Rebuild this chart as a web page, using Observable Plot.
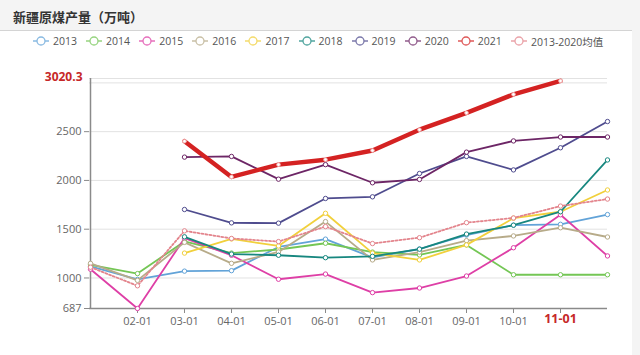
<!DOCTYPE html>
<html>
<head>
<meta charset="utf-8">
<script src="https://cdn.jsdelivr.net/npm/d3@7"></script>
<script src="https://cdn.jsdelivr.net/npm/@observablehq/plot@0.6"></script>
<style>
  body { margin: 0; background: #fff; }
  #wrap { position: relative; width: 640px; height: 355px; overflow: hidden; background: #fff;
          font-family: "Open Sans", "Noto Sans CJK SC", sans-serif; }
  #titlebar { height: 30px; background: #f4f4f4; border-bottom: 1px solid #d4d4d4; position: relative; }
  #title { position: absolute; left: 13px; top: 7px; font-size: 13px; font-weight: bold; color: #333;
           font-family: "Noto Sans CJK SC", sans-serif; }
  #legend { position: relative; height: 20px; }
  .item { position: absolute; top: 3px; height: 14px; display: flex; align-items: center; }
  .item span { font-size: 10.5px; color: #555; margin-left: 4px; white-space: nowrap; }
  #strip { position: absolute; right: 0; top: 0; width: 8px; height: 355px; background: #f4f4f4; }
</style>
</head>
<body>
<div id="wrap">
  <div id="titlebar"><div id="title">新疆原煤产量（万吨）</div></div>
  <div id="legend"></div>
  <div id="chart"></div>
  <div id="strip"></div>
</div>
<script>
const months = ["01-01","02-01","03-01","04-01","05-01","06-01","07-01","08-01","09-01","10-01","11-01","12-01"];
const xTickLabels = ["02-01","03-01","04-01","05-01","06-01","07-01","08-01","09-01","10-01","11-01"];
const yTickValues = [687, 1000, 1500, 2000, 2500];
const gridValues = [1000, 1500, 2000, 2500, 3000, 3045];
const yDomain = [687, 3045];
const peakMonth = "11-01";
const peakValue = 3020.3;

const seriesNames = ["2013","2014","2015","2016","2017","2018","2019","2020","2021","2013-2020均值"];
const seriesColors = ["#62a3d8","#74c655","#de3fa6","#b7ab89","#f1d03c","#17877f","#4f4c8e","#6d2666","#d42222","#e3848c"];

const v2013 = [1120, 985, 1070, 1075, 1318, 1398, 1210, 1297, 1440, 1541, 1550, 1650];
const v2014 = [1135, 1045, 1375, 1255, 1292, 1356, 1265, 1236, 1339, 1033, 1033, 1033];
const v2015 = [1090, 687, 1408, 1233, 987, 1040, 850, 897, 1020, 1310, 1648, 1226];
const v2016 = [1150, 975, 1365, 1150, 1267, 1578, 1185, 1265, 1383, 1431, 1515, 1420];
const v2017 = [null, null, 1255, 1400, 1328, 1663, 1255, 1185, 1339, 1613, 1679, 1902];
const v2018 = [null, null, 1422, 1245, 1233, 1208, 1222, 1295, 1450, 1541, 1679, 2210];
const v2019 = [null, null, 1702, 1565, 1562, 1815, 1832, 2071, 2246, 2108, 2335, 2604];
const v2020 = [null, null, 2239, 2246, 2013, 2162, 1976, 2010, 2290, 2405, 2445, 2445];
const v2021 = [null, null, 2402, 2036, 2162, 2213, 2307, 2520, 2693, 2882, 3020.3, null];
const vAvg  = [1110, 920, 1483, 1405, 1373, 1527, 1353, 1413, 1567, 1615, 1737, 1809];
const seriesValues = [v2013, v2014, v2015, v2016, v2017, v2018, v2019, v2020, v2021, vAvg];

// Legend
const legend = document.getElementById("legend");
seriesNames.forEach((name, i) => {
  const item = document.createElement("div");
  item.className = "item";
  item.style.left = (33 + 53.1 * i) + "px";
  const c = seriesColors[i];
  item.innerHTML = `<svg width="16" height="12" style="opacity:0.75"><line x1="0" y1="6" x2="16" y2="6" stroke="${c}" stroke-width="1.5"/><circle cx="8" cy="6" r="4" fill="white" stroke="${c}" stroke-width="1.3"/></svg><span>${name}</span>`;
  legend.appendChild(item);
});

// Chart
const marks = [
  Plot.ruleY(gridValues, {stroke: "#e2e2e2", strokeWidth: 1}),
  Plot.ruleX([months[0]], {stroke: "#8a8a8a", strokeWidth: 1.5}),
  Plot.ruleY([yDomain[0]], {stroke: "#8a8a8a", strokeWidth: 1.5}),
  Plot.axisY({ticks: yTickValues, tickSize: 5, tickPadding: 3, fontSize: 11, stroke: "#8a8a8a", fill: "#666",
              label: null, tickFormat: d => String(d)}),
  Plot.axisX({ticks: xTickLabels, tickSize: 5, tickPadding: 4, fontSize: 11, stroke: "#8a8a8a", fill: "#666",
              label: null, tickFormat: d => d === peakMonth ? "" : d})
];

seriesNames.forEach((name, i) => {
  const pts = months.map((m, j) => ({month: m, value: seriesValues[i][j]})).filter(d => d.value != null);
  const isAvg = name.includes("均值");
  const is2021 = name === "2021";
  marks.push(Plot.line(pts, {
    x: "month", y: "value", stroke: seriesColors[i],
    strokeWidth: is2021 ? 4.5 : 1.8,
    strokeDasharray: isAvg ? "2,2" : null
  }));
  marks.push(Plot.dot(pts, {
    x: "month", y: "value", r: is2021 ? 1.8 : 2.2, fill: "white",
    stroke: is2021 ? "#f3b0b0" : seriesColors[i], strokeWidth: 1
  }));
});

marks.push(Plot.text([peakValue], {
  y: d => d, frameAnchor: "left", textAnchor: "end", dx: -7, dy: -4,
  text: d => String(d), fill: "#c62828", fontWeight: "bold", fontSize: 12,
  stroke: "white", strokeWidth: 4
}));
marks.push(Plot.text([peakMonth], {
  x: d => d, frameAnchor: "bottom", dy: 14, text: d => d,
  fill: "#c62828", fontWeight: "bold", fontSize: 12.5
}));

const svg = Plot.plot({
  width: 640, height: 304,
  marginLeft: 89, marginRight: 33, marginTop: 27, marginBottom: 47,
  style: {fontFamily: "'Open Sans', 'Noto Sans CJK SC', sans-serif", fontSize: "11px", color: "#666", background: "transparent"},
  x: {type: "point", domain: months, padding: 0, axis: null},
  y: {domain: yDomain, axis: null},
  marks
});
document.getElementById("chart").appendChild(svg);
</script>
</body>
</html>
